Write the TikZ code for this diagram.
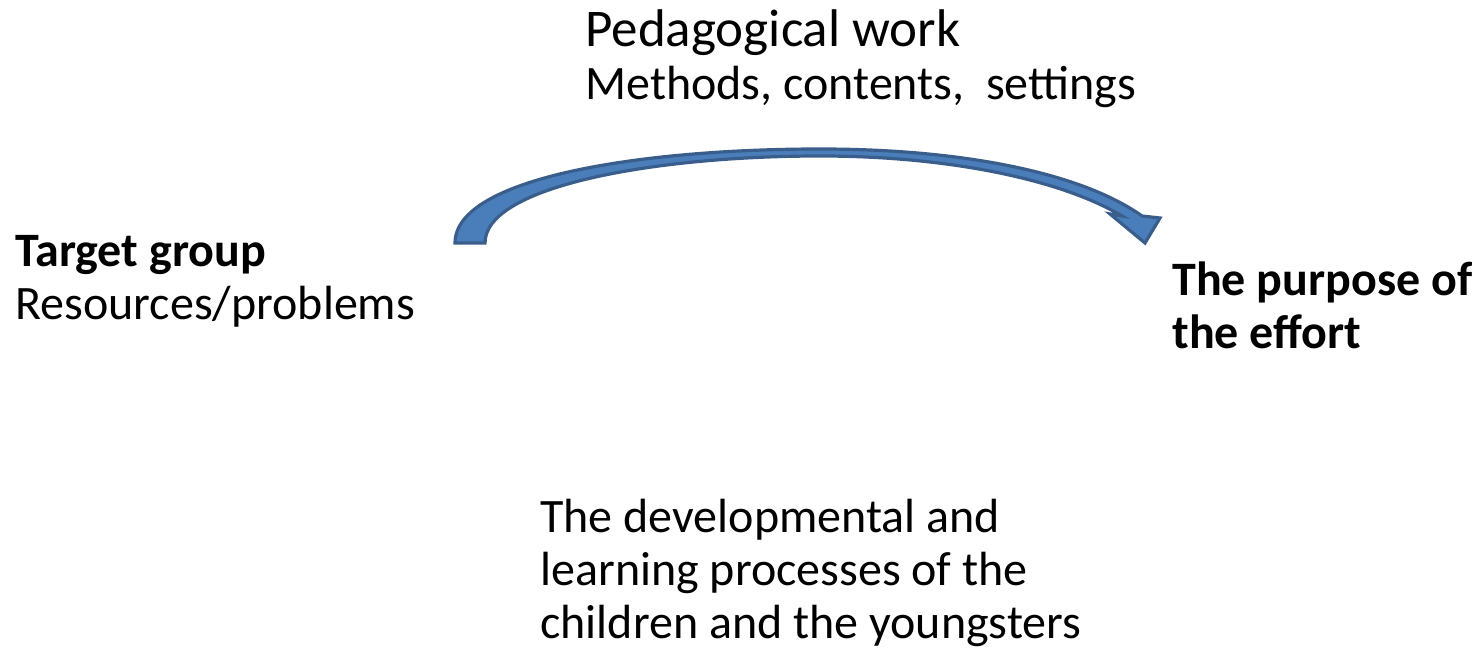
\documentclass[tikz,border=0pt]{standalone}
\usepackage{fontspec}
\setmainfont{Carlito}
\usetikzlibrary{calc}
\definecolor{arrowfill}{HTML}{4A7EBB}
\definecolor{arrowline}{HTML}{3A5E8C}
\tikzset{lbl/.style={anchor=base west, inner sep=0pt, align=left,
    font=\fontsize{24}{26.5}\selectfont}}

\begin{document}
\begin{tikzpicture}[x=0.5pt,y=-0.5pt]
        \useasboundingbox (0,0) rectangle (1473,662);
        % the base of each text is its last line
        \node[lbl] (work) at (585,100) {{\fontsize{26.5}{26.5}\selectfont Pedagogical work}\\Methods, contents,~ settings};
        \node[lbl] (group) at (15,320) {\textbf{Target group}\\Resources/problems};
        \node[lbl] (purpose) at (1172,349) {\textbf{The purpose of}\\\textbf{the effort}};
        \node[lbl] (process) at (540,638) {The developmental and\\learning processes of the\\children and the youngsters};
        % curved arrow
        \coordinate (tip) at (1145,243);
        \draw[fill=arrowfill, draw=arrowline, line width=1.6pt, line join=miter]
            (455,243) .. controls (455,178) and (640,149) .. (820,149)
            .. controls (960,149) and (1080,172) .. (1142,216)
            -- (1160,218) -- (tip) -- (1110,214) -- (1122,216)
            .. controls (1062,180) and (950,156) .. (820,156)
            .. controls (655,156) and (485,186) .. (485,243) -- cycle;
    \end{tikzpicture}
\end{document}
